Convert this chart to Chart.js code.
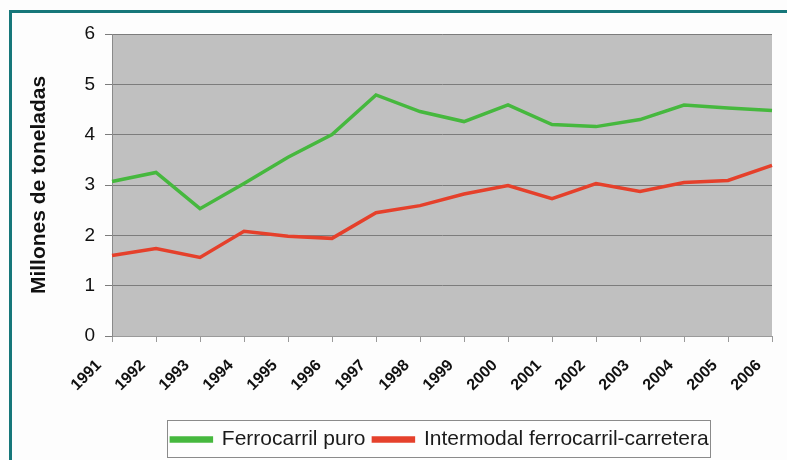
<!DOCTYPE html>
<html>
<head>
<meta charset="utf-8">
<script src="https://cdn.jsdelivr.net/npm/chart.js@4"></script>
<style>
  html, body { margin: 0; padding: 0; background: #fdfdfd; }
  #wrap { position: relative; width: 787px; height: 460px; overflow: hidden; }
  #frame {
    position: absolute; left: 9px; top: 10px; width: 800px; height: 460px;
    border-top: 3px solid #16777a; border-left: 3px solid #16777a;
    pointer-events: none;
  }
</style>
</head>
<body>
<div id="wrap">
  <canvas id="chart" width="787" height="460"></canvas>
  <div id="frame"></div>
</div>
<script>
// values
const years = ['1991', '1992', '1993', '1994', '1995', '1996', '1997', '1998',
               '1999', '2000', '2001', '2002', '2003', '2004', '2005', '2006'];
const ferrocarrilPuro = [3.07, 3.25, 2.53, 3.03, 3.55, 4.0, 4.79, 4.46,
                         4.26, 4.59, 4.2, 4.16, 4.3, 4.59, 4.53, 4.48];
const intermodal = [1.6, 1.74, 1.56, 2.08, 1.98, 1.94, 2.45, 2.59,
                    2.82, 2.99, 2.73, 3.03, 2.87, 3.05, 3.09, 3.39];
const yTicks = [0, 1, 2, 3, 4, 5, 6];

const FONT = 'Liberation Sans, Arial, sans-serif';

// gray plot area, legend moved to the right spot, box around the legend
const plotBack = {
    id: 'plotBack',
    afterLayout(chart) {
        const lg = chart.legend;
        const shift = 440 - (lg.left + lg.right) / 2;
        lg.left += shift;
        lg.right += shift;
    },
    beforeDraw(chart) {
        const { ctx, chartArea } = chart;
        ctx.save();
        ctx.fillStyle = '#c0c0c0';
        ctx.fillRect(chartArea.left, chartArea.top, chartArea.right - chartArea.left, chartArea.bottom - chartArea.top);
        ctx.restore();
    },
    afterDraw(chart) {
        const boxes = chart.legend.legendHitBoxes;
        if (!boxes || !boxes.length) return;
        const ctx = chart.ctx;
        let l = Infinity, r = -Infinity, t = Infinity, b = -Infinity;
        boxes.forEach(h => {
            l = Math.min(l, h.left); r = Math.max(r, h.left + h.width);
            t = Math.min(t, h.top); b = Math.max(b, h.top + h.height);
        });
        ctx.save();
        ctx.strokeStyle = '#8a8a8a';
        ctx.lineWidth = 1;
        ctx.strokeRect(Math.round(l - 4) + 0.5, Math.round(t - 9) + 0.5, Math.round(r - l + 6), Math.round(b - t + 16));
        ctx.restore();
    }
};

const ctx = document.getElementById('chart').getContext('2d');
new Chart(ctx, {
    type: 'line',
    data: {
        labels: years,
        datasets: [{
            label: 'Ferrocarril puro',
            data: ferrocarrilPuro,
            borderColor: '#46b83e',
            backgroundColor: '#46b83e',
            borderWidth: 3.5,
            pointRadius: 0,
            tension: 0
        }, {
            label: 'Intermodal ferrocarril-carretera',
            data: intermodal,
            borderColor: '#e5402b',
            backgroundColor: '#e5402b',
            borderWidth: 3.5,
            pointRadius: 0,
            tension: 0
        }]
    },
    options: {
        responsive: false,
        animation: false,
        layout: { padding: { top: 34, right: 15, left: 0, bottom: 0 } },
        plugins: {
            tooltip: { enabled: false },
            legend: {
                position: 'bottom',
                labels: {
                    boxWidth: 40,
                    boxHeight: 3,
                    padding: 8,
                    color: '#1a1a1a',
                    font: { family: FONT, size: 21 }
                }
            }
        },
        scales: {
            x: {
                offset: false,
                grid: { display: true, drawOnChartArea: false, color: '#9a9a9a', tickLength: 6 },
                border: { color: '#9a9a9a' },
                ticks: {
                    autoSkip: false,
                    maxRotation: 45,
                    minRotation: 45,
                    labelOffset: -13,
                    padding: 14,
                    color: '#111',
                    font: { family: FONT, size: 16, weight: 'bold' }
                },
                afterFit(scale) {
                    scale.height = 85;
                    scale.paddingRight = 0;
                }
            },
            y: {
                min: 0,
                max: 6,
                afterBuildTicks(scale) { scale.ticks = yTicks.map(v => ({ value: v })); },
                grid: { color: '#7c7c7c', tickLength: 7 },
                border: { color: '#8a8a8a' },
                ticks: {
                    padding: 10,
                    color: '#111',
                    font: { family: FONT, size: 19 }
                },
                title: {
                    display: true,
                    text: 'Millones de toneladas',
                    color: '#111',
                    padding: { top: 27, bottom: 0 },
                    font: { family: FONT, size: 21, weight: 'bold' }
                },
                afterFit(scale) { scale.width = 112; }
            }
        }
    },
    plugins: [plotBack]
});
</script>
</body>
</html>
